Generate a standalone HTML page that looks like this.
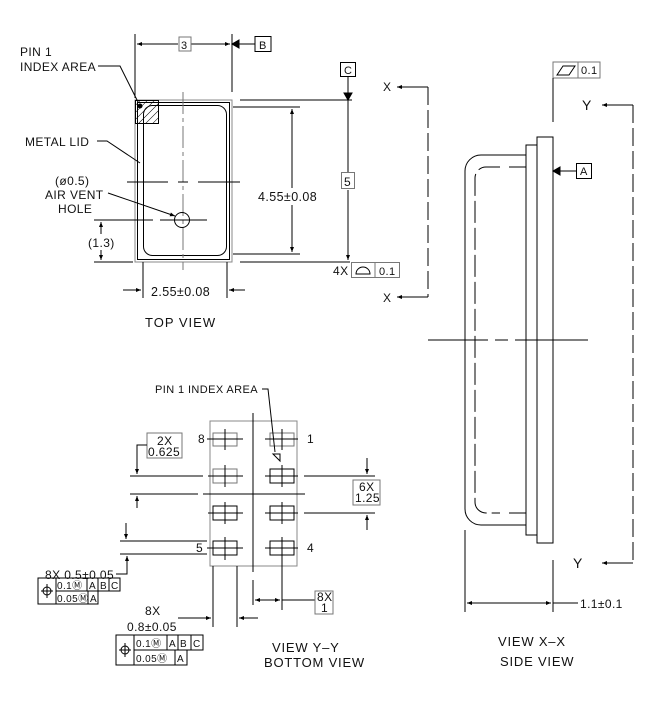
<!DOCTYPE html>
<html><head><meta charset="utf-8"><style>
html,body{margin:0;padding:0;background:#fff;}
svg{display:block;}
text{font-family:"Liberation Sans",sans-serif;font-size:12px;letter-spacing:0.4px;fill:#111;}
</style></head><body>
<svg width="657" height="705" viewBox="0 0 657 705" xmlns="http://www.w3.org/2000/svg">
<defs>
<marker id="ar" viewBox="0 0 10 10" refX="10" refY="5" markerWidth="7" markerHeight="5" orient="auto-start-reverse"><path d="M0,1 L10,5 L0,9 z" fill="#000"/></marker>
<pattern id="hatch" width="5" height="5" patternUnits="userSpaceOnUse" patternTransform="rotate(45)"><line x1="0" y1="0" x2="0" y2="5" stroke="#000" stroke-width="1"/></pattern>
</defs>
<g stroke="#000" stroke-width="1" fill="none">
<rect x="135" y="100" width="97" height="162" stroke="#888"/>
<rect x="137.5" y="102.5" width="92" height="157"/>
<rect x="143.5" y="105.5" width="83" height="150" rx="9"/>
<rect x="135.5" y="100.5" width="23" height="23" fill="url(#hatch)"/>
<circle cx="140" cy="106" r="2" fill="#000"/>
<line x1="183" y1="92" x2="183" y2="270" stroke="#777" stroke-dasharray="22,4,4,4"/>
<line x1="127" y1="182" x2="168" y2="182"/><line x1="178" y1="182" x2="188" y2="182"/><line x1="198" y1="182" x2="240" y2="182"/>
<circle cx="182" cy="220" r="7.5"/>
<line x1="94" y1="220" x2="153" y2="220"/><line x1="160" y1="220" x2="207" y2="220"/>
<line x1="135" y1="34" x2="135" y2="98"/><line x1="232" y1="34" x2="232" y2="92"/>
<line x1="137" y1="44" x2="178" y2="44" marker-start="url(#ar)"/><line x1="191" y1="44" x2="230" y2="44" marker-end="url(#ar)"/>
<rect x="179" y="37" width="12" height="14" stroke="#777"/>
<path d="M232,44 l7,-4 v8 z" fill="#000"/><line x1="239" y1="44" x2="255" y2="44"/>
<rect x="255" y="36.5" width="16" height="15"/>
<rect x="340.5" y="62.5" width="15" height="14"/>
<line x1="348" y1="77" x2="348" y2="93"/><path d="M348,100 l-4,-7 h8 z" fill="#000"/>
<line x1="240" y1="100" x2="352" y2="100"/>
<line x1="233" y1="107" x2="300" y2="107"/><line x1="233" y1="254" x2="300" y2="254"/>
<line x1="292" y1="109" x2="292" y2="188" marker-start="url(#ar)"/><line x1="292" y1="205" x2="292" y2="252" marker-end="url(#ar)"/>
<line x1="348" y1="100" x2="348" y2="172"/><line x1="348" y1="190" x2="348" y2="260" marker-end="url(#ar)"/>
<rect x="341.5" y="172.5" width="13" height="16" stroke="#777"/>
<line x1="240" y1="262" x2="350" y2="262"/>
<rect x="351.5" y="262.5" width="48" height="15" stroke="#777"/><line x1="375" y1="263" x2="375" y2="277" stroke="#777"/>
<path d="M356,274 a7,7 0 0 1 14,0 z"/>
<line x1="428" y1="87" x2="397" y2="87" marker-end="url(#ar)"/>
<line x1="428" y1="297" x2="397" y2="297" marker-end="url(#ar)"/>
<line x1="428" y1="87" x2="428" y2="297" stroke-dasharray="18,5"/>
<line x1="94" y1="262" x2="133" y2="262"/>
<line x1="101" y1="234" x2="101" y2="222" marker-end="url(#ar)"/><line x1="101" y1="250" x2="101" y2="260" marker-end="url(#ar)"/>
<line x1="143" y1="262" x2="143" y2="298"/><line x1="227" y1="262" x2="227" y2="298"/>
<line x1="123" y1="290" x2="141" y2="290" marker-end="url(#ar)"/><line x1="245" y1="290" x2="229" y2="290" marker-end="url(#ar)"/>
<polyline points="98,66 120,66 138,102"/>
<polyline points="97,141 107,141 140,163"/>
<line x1="108" y1="193" x2="175" y2="216" marker-end="url(#ar)"/>

<rect x="210" y="421" width="87" height="145" stroke="#888"/>
<line x1="253" y1="413" x2="253" y2="572"/><line x1="253" y1="580" x2="253" y2="605"/>
<line x1="203" y1="494" x2="305" y2="494"/>
<g>
<rect x="213" y="433" width="24" height="13" stroke="#777"/><rect x="270" y="433" width="24" height="13" stroke="#777"/>
<rect x="213" y="469" width="24" height="14" stroke="#777"/><rect x="270" y="469" width="24" height="14"/>
<rect x="213" y="506" width="24" height="14"/><rect x="270" y="506" width="24" height="14"/>
<rect x="213" y="541" width="24" height="14"/><rect x="270" y="541" width="24" height="14"/>
</g>
<g>
<line x1="207" y1="439" x2="243" y2="439"/><line x1="265" y1="439" x2="298" y2="439"/><line x1="225" y1="429" x2="225" y2="450"/><line x1="282" y1="429" x2="282" y2="450"/>
<line x1="208" y1="476" x2="243" y2="476"/><line x1="265" y1="476" x2="298" y2="476"/><line x1="225" y1="465" x2="225" y2="487"/><line x1="282" y1="465" x2="282" y2="487"/>
<line x1="208" y1="513" x2="243" y2="513"/><line x1="265" y1="513" x2="298" y2="513"/><line x1="225" y1="502" x2="225" y2="524"/><line x1="282" y1="502" x2="282" y2="524"/>
<line x1="207" y1="548" x2="243" y2="548"/><line x1="265" y1="548" x2="298" y2="548"/><line x1="225" y1="537" x2="225" y2="560"/><line x1="282" y1="537" x2="282" y2="570"/>
</g>
<path d="M273,454 L280,454 L280,461 z"/>
<polyline points="262,389 268,389 275,452"/>
<rect x="147" y="433" width="35" height="25" stroke="#777"/>
<polyline points="147,445 137,445 137,474" marker-end="url(#ar)"/>
<line x1="137" y1="508" x2="137" y2="496" marker-end="url(#ar)"/>
<line x1="130" y1="476" x2="203" y2="476"/><line x1="130" y1="494" x2="198" y2="494"/>
<rect x="353" y="480" width="27" height="25" stroke="#777"/>
<line x1="304" y1="476" x2="375" y2="476"/><line x1="304" y1="513" x2="375" y2="513"/>
<line x1="367" y1="458" x2="367" y2="474" marker-end="url(#ar)"/><line x1="367" y1="530" x2="367" y2="515" marker-end="url(#ar)"/>
<line x1="120" y1="541" x2="207" y2="541"/><line x1="120" y1="554" x2="207" y2="554"/>
<line x1="126" y1="523" x2="126" y2="539" marker-end="url(#ar)"/>
<polyline points="116,574 127,574 127,556" marker-end="url(#ar)"/>
<rect x="38" y="578" width="18" height="26"/>
<rect x="56" y="578" width="64" height="13"/>
<rect x="56" y="591" width="42" height="13"/>
<line x1="87" y1="578" x2="87" y2="591"/><line x1="98" y1="578" x2="98" y2="591"/><line x1="109" y1="578" x2="109" y2="591"/>
<line x1="88" y1="591" x2="88" y2="604"/>
<circle cx="47" cy="591" r="4"/><line x1="47" y1="584" x2="47" y2="598"/><line x1="41" y1="591" x2="53" y2="591"/>
<line x1="213" y1="566" x2="213" y2="627"/><line x1="237" y1="566" x2="237" y2="627"/>
<line x1="178" y1="618" x2="211" y2="618" marker-end="url(#ar)"/><line x1="258" y1="618" x2="239" y2="618" marker-end="url(#ar)"/>
<line x1="282" y1="556" x2="282" y2="610"/>
<line x1="255" y1="600" x2="280" y2="600" marker-start="url(#ar)" marker-end="url(#ar)"/>
<line x1="282" y1="600" x2="315" y2="600"/>
<rect x="315" y="591" width="18" height="23" stroke="#777"/>
<rect x="116" y="635" width="18" height="30"/>
<rect x="134" y="635" width="69" height="15"/>
<rect x="134" y="650" width="53" height="15"/>
<line x1="167" y1="635" x2="167" y2="650"/><line x1="178" y1="635" x2="178" y2="650"/><line x1="191" y1="635" x2="191" y2="650"/>
<line x1="175" y1="650" x2="175" y2="665"/>
<circle cx="125" cy="650" r="4"/><line x1="125" y1="643" x2="125" y2="657"/><line x1="119" y1="650" x2="131" y2="650"/>

<rect x="553" y="62" width="47" height="16" stroke="#777"/><line x1="578" y1="62" x2="578" y2="78" stroke="#777"/>
<path d="M557,75 l6,-9 h12 l-6,9 z"/>
<line x1="553" y1="78" x2="553" y2="122"/>
<line x1="633" y1="105" x2="602" y2="105" marker-end="url(#ar)"/>
<line x1="633" y1="563" x2="602" y2="563" marker-end="url(#ar)"/>
<line x1="633" y1="105" x2="633" y2="563" stroke-dasharray="18,5"/>
<rect x="537" y="137" width="16" height="406"/>
<rect x="526" y="145" width="11" height="390"/>
<path d="M526,155 H481 a16,16 0 0 0 -16,16 V509 a16,16 0 0 0 16,16 H526"/>
<path d="M500,167 H486 a11,11 0 0 0 -11,11 V502 a11,11 0 0 0 11,11 H500" stroke-dasharray="22,5"/>
<line x1="509" y1="167" x2="526" y2="167"/><line x1="509" y1="513" x2="526" y2="513"/>
<path d="M553,171 l7,-4 v8 z" fill="#000"/><line x1="560" y1="171" x2="576" y2="171"/>
<rect x="576.5" y="163.5" width="15" height="15"/>
<line x1="428" y1="340" x2="488" y2="340"/><line x1="495" y1="340" x2="508" y2="340"/><line x1="515" y1="340" x2="588" y2="340"/>
<line x1="465" y1="530" x2="465" y2="612"/><line x1="553" y1="560" x2="553" y2="612"/>
<line x1="467" y1="603" x2="551" y2="603" marker-start="url(#ar)" marker-end="url(#ar)"/>
<line x1="553" y1="603" x2="578" y2="603"/>
</g>
<text x="20" y="56">PIN 1</text>
<text x="20" y="71">INDEX AREA</text>
<text x="25" y="146">METAL LID</text>
<text x="55" y="185">(ø0.5)</text>
<text x="45" y="199">AIR VENT</text>
<text x="58" y="213">HOLE</text>
<text x="88" y="247">(1.3)</text>
<text x="181" y="49" style="font-size:11px">3</text>
<text x="259" y="49" style="font-size:11px">B</text>
<text x="344" y="74" style="font-size:11px">C</text>
<text x="258" y="201" style="font-size:12.5px">4.55±0.08</text>
<text x="344" y="186">5</text>
<text x="333" y="275">4X</text>
<text x="379" y="275" style="font-size:11px">0.1</text>
<text x="383" y="91">X</text>
<text x="383" y="302">X</text>
<text x="151" y="296" style="font-size:12.5px">2.55±0.08</text>
<text x="145" y="327" style="font-size:13px;letter-spacing:1px">TOP  VIEW</text>
<text x="155" y="393" style="font-size:11px">PIN 1  INDEX  AREA</text>
<text x="198" y="443">8</text><text x="307" y="443">1</text>
<text x="196" y="552">5</text><text x="307" y="552">4</text>
<text x="157" y="445">2X</text><text x="148" y="456">0.625</text>
<text x="359" y="491">6X</text><text x="355" y="502">1.25</text>
<text x="45" y="579">8X  0.5±0.05</text>
<text x="57" y="589" style="font-size:10px">0.1Ⓜ</text><text x="89" y="589" style="font-size:10px">A</text><text x="100" y="589" style="font-size:10px">B</text><text x="111" y="589" style="font-size:10px">C</text>
<text x="57" y="602" style="font-size:10px">0.05Ⓜ</text><text x="90" y="602" style="font-size:10px">A</text>
<text x="145" y="615">8X</text>
<text x="127" y="631">0.8±0.05</text>
<text x="317" y="601">8X</text><text x="321" y="612">1</text>
<text x="136" y="647" style="font-size:10px">0.1Ⓜ</text><text x="169" y="647" style="font-size:10px">A</text><text x="180" y="647" style="font-size:10px">B</text><text x="193" y="647" style="font-size:10px">C</text>
<text x="136" y="662" style="font-size:10px">0.05Ⓜ</text><text x="177" y="662" style="font-size:10px">A</text>
<text x="272" y="652" style="font-size:13px;letter-spacing:0.8px">VIEW  Y–Y</text>
<text x="264" y="667" style="font-size:13px;letter-spacing:0.8px">BOTTOM  VIEW</text>
<text x="581" y="74" style="font-size:11px">0.1</text>
<text x="582" y="110" style="font-size:14px">Y</text>
<text x="573" y="568" style="font-size:14px">Y</text>
<text x="580" y="175" style="font-size:11px">A</text>
<text x="580" y="608">1.1±0.1</text>
<text x="498" y="646" style="font-size:13px;letter-spacing:0.8px">VIEW  X–X</text>
<text x="500" y="666" style="font-size:13px;letter-spacing:0.8px">SIDE  VIEW</text>
</svg>
</body></html>
